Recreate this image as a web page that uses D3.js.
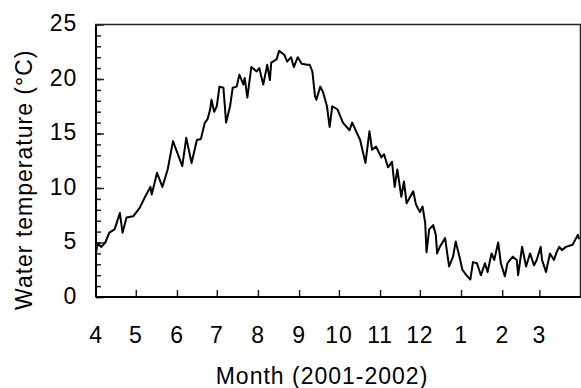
<!DOCTYPE html>
<meta charset="UTF-8">
<style>
    body { margin: 0; background: #fff; }
    text { font-family: "Liberation Sans", Arial, sans-serif; fill: #000; font-size: 23px; }
    .title { letter-spacing: 1px; }
    .line { fill: none; stroke: #000; stroke-width: 2px; stroke-linejoin: round; }
</style>
<body>
<div id="chart"></div>
<script src="https://d3js.org/d3.v7.min.js"></script>
<script>

// day number counted from 1 April 2001
var days = [0, 1, 4, 7, 10, 14, 18, 20, 23, 28, 33, 37, 41, 42, 46, 50, 54, 58, 65, 68,
    72, 76, 79, 82, 84, 86, 87, 89, 91, 93, 96, 98, 101, 103, 106, 108, 111, 112, 114, 117,
    121, 123, 126, 129, 131, 132, 136, 138, 142, 144, 147, 149, 152, 155, 159, 161, 163, 165, 166, 169,
    171, 174, 176, 178, 182, 186, 191, 193, 199, 203, 206, 208, 211, 215, 217, 220, 223, 225, 227, 230,
    232, 234, 239, 241, 244, 246, 248, 249, 251, 254, 256, 257, 259, 263, 266, 269, 271, 274, 276, 279,
    282, 284, 287, 290, 293, 295, 298, 300, 303, 305, 308, 310, 314, 317, 318, 321, 324, 327, 330, 332,
    335, 336, 339, 342, 345, 347, 349, 351, 354, 359, 363, 364];

// water temperature (°C)
var temps = [4.0, 4.9, 4.6, 5.0, 5.9, 6.2, 7.7, 5.9, 7.3, 7.4, 8.2, 9.2, 10.1, 9.4, 11.4, 10.1, 11.7, 14.3, 12.0, 14.6,
    12.3, 14.4, 14.5, 16.0, 16.3, 17.2, 18.1, 17.0, 17.5, 19.3, 19.2, 16.0, 17.5, 19.2, 19.3, 20.4, 19.5, 20.1, 18.3, 21.1,
    20.7, 21.0, 19.5, 21.3, 19.9, 21.5, 21.8, 22.6, 22.2, 21.6, 22.0, 21.1, 22.0, 21.4, 21.3, 21.3, 20.7, 18.4, 18.1, 19.3,
    18.8, 17.5, 15.6, 17.5, 17.2, 16.0, 15.3, 16.0, 14.4, 12.3, 15.2, 13.5, 13.8, 12.8, 13.1, 11.9, 12.4, 10.1, 11.7, 9.2,
    10.6, 8.6, 9.7, 8.5, 7.8, 8.3, 6.8, 4.1, 6.2, 6.6, 5.7, 4.0, 4.6, 5.4, 2.8, 3.7, 5.1, 3.6, 2.5, 2.0,
    1.6, 3.2, 3.1, 2.0, 3.1, 2.3, 4.0, 3.4, 5.0, 3.1, 1.9, 3.1, 3.7, 3.4, 2.0, 4.6, 2.8, 4.0, 2.9, 3.4,
    4.6, 3.4, 2.3, 4.0, 3.4, 4.1, 4.6, 4.3, 4.6, 4.8, 5.7, 5.3];

var monthLabels = ["4", "5", "6", "7", "8", "9", "10", "11", "12", "1", "2", "3"];
var yTicks = [0, 5, 10, 15, 20, 25];

var startDate = new Date(2001, 3, 1),
    endDate = new Date(2002, 3, 1);

var data = days.map(function(d, i) {
    return { date: d3.timeDay.offset(startDate, d), temp: temps[i] };
});

// set the dimensions and margins of the graph
var margin = {top: 24.5, right: 0.5, bottom: 91, left: 96},
    width = 581 - margin.left - margin.right,
    height = 388 - margin.top - margin.bottom;

var x = d3.scaleTime().domain([startDate, endDate]).range([0, width]);
var y = d3.scaleLinear().domain([0, 25]).range([height, 0]);

var svg = d3.select("#chart").append("svg")
    .attr("width", 581)
    .attr("height", 388)
  .append("g")
    .attr("transform", "translate(" + margin.left + "," + margin.top + ")");

// minor y ticks (every 1 °C), pointing inward
svg.append("g")
    .call(d3.axisRight(y).ticks(25).tickSize(5).tickFormat(""))
    .call(function(g) { g.select(".domain").remove(); })
    .selectAll("line").attr("stroke", "#222").attr("stroke-width", 1.5);

// major y ticks and labels
var yAxis = svg.append("g")
    .call(d3.axisRight(y).tickValues(yTicks).tickSize(8).tickFormat(""));
yAxis.select(".domain").remove();
yAxis.selectAll("line").attr("stroke", "#222").attr("stroke-width", 1.5);

svg.append("g").selectAll("text")
    .data(yTicks)
    .enter().append("text")
    .attr("x", -19)
    .attr("y", function(d) { return y(d) - 1.5; })
    .attr("dy", "0.36em")
    .attr("text-anchor", "end")
    .style("letter-spacing", "0.8px")
    .text(function(d) { return d; });

// x ticks at the start of each month, pointing up
var months = d3.timeMonth.range(startDate, endDate);
var xAxis = svg.append("g")
    .attr("transform", "translate(0," + height + ")")
    .call(d3.axisTop(x).tickValues(months.slice(1)).tickSize(7).tickFormat(""));
xAxis.select(".domain").remove();
xAxis.selectAll("line").attr("stroke", "#222").attr("stroke-width", 1.5);

svg.append("g").selectAll("text")
    .data(months)
    .enter().append("text")
    .attr("x", function(d) { return x(d); })
    .attr("y", height + 46)
    .attr("text-anchor", "middle")
    .style("letter-spacing", "0.8px")
    .text(function(d, i) { return monthLabels[i]; });

// the temperature line
svg.append("path")
    .data([data])
    .attr("class", "line")
    .attr("d", d3.line()
        .x(function(d) { return x(d.date); })
        .y(function(d) { return y(d.temp); }));

// frame
svg.append("rect")
    .attr("width", width)
    .attr("height", height)
    .attr("fill", "none")
    .attr("stroke", "#222")
    .attr("stroke-width", 1.5);
svg.append("line").attr("x1", 0).attr("x2", 0).attr("y1", 0).attr("y2", height)
    .attr("stroke", "#000").attr("stroke-width", 2);
svg.append("line").attr("x1", 0).attr("x2", width).attr("y1", height).attr("y2", height)
    .attr("stroke", "#000").attr("stroke-width", 2);

// axis titles
svg.append("text")
    .attr("class", "title")
    .attr("x", 226)
    .attr("y", height + 87)
    .attr("text-anchor", "middle")
    .text("Month (2001-2002)");

svg.append("text")
    .attr("class", "title")
    .attr("transform", "translate(-64," + (height / 2 + 19) + ") rotate(-90)")
    .attr("text-anchor", "middle")
    .text("Water temperature (°C)");

</script>
</body>
